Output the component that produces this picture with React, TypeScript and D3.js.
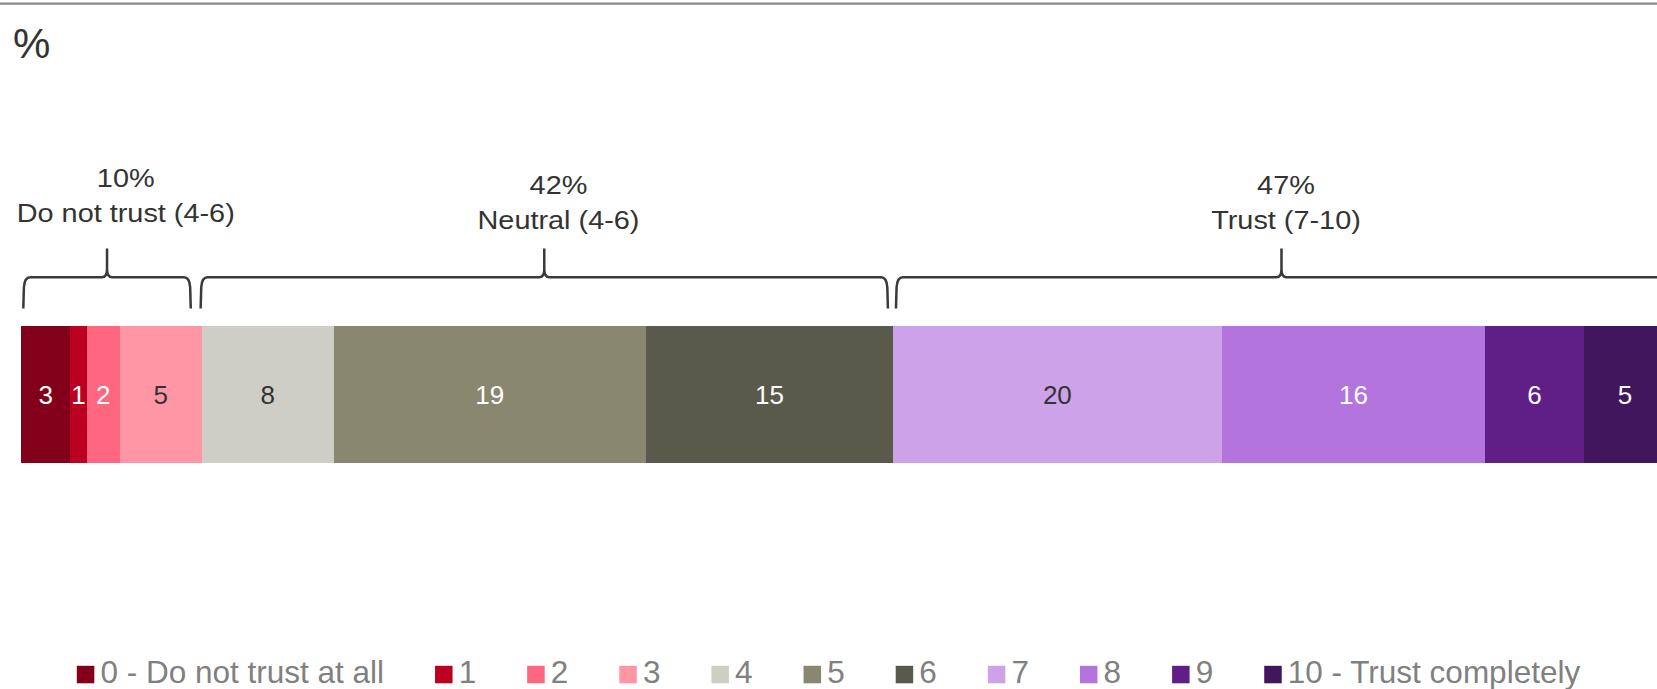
import React, { useEffect, useRef } from "react";
import * as d3 from "d3";

// ---- data ----
const categories = [
  "0 - Do not trust at all",
  "1",
  "2",
  "3",
  "4",
  "5",
  "6",
  "7",
  "8",
  "9",
  "10 - Trust completely",
];
const values = [3, 1, 2, 5, 8, 19, 15, 20, 16, 6, 5];
const colors = [
  "#82001a",
  "#bc0021",
  "#ff6680",
  "#ff96a6",
  "#cecec6",
  "#898770",
  "#5a5a4c",
  "#cea2e9",
  "#b474de",
  "#601e87",
  "#42165c",
];
const labelColors = [
  "#ffffff",
  "#ffffff",
  "#ffffff",
  "#333333",
  "#333333",
  "#ffffff",
  "#ffffff",
  "#333333",
  "#ffffff",
  "#ffffff",
  "#ffffff",
];
const groupPcts = ["10%", "42%", "47%"];
const groupNames = ["Do not trust (4-6)", "Neutral (4-6)", "Trust (7-10)"];
const groupStart = [0.14, 10.92, 53.19];
const groupEnd = [10.32, 52.7, 100.06];

// ---- layout ----
const W = 1657;
const H = 689;
const FONT = "'Liberation Sans', Arial, Helvetica, sans-serif";
const labelShiftX = [18.7, 14.2, 4.5];
const labelShiftY = [-7, 0, 0];

export default function App() {
  const ref = useRef<SVGSVGElement | null>(null);

  useEffect(() => {
    const svg = d3.select(ref.current);
    svg.selectAll("*").remove();

    const x = d3.scaleLinear().domain([0, 100]).range([21, 1666]);
    const barTop = 326;
    const barH = 137;

    // top rule
    svg
      .append("line")
      .attr("x1", 0)
      .attr("x2", W)
      .attr("y1", 3.6)
      .attr("y2", 3.6)
      .attr("stroke", "#8a8a8a")
      .attr("stroke-width", 2.2);

    // unit
    svg
      .append("text")
      .attr("x", 13)
      .attr("y", 57.5)
      .attr("font-family", FONT)
      .attr("font-size", 42)
      .attr("fill", "#333333")
      .text("%");

    // bar segments
    const cum = d3.cumsum(values);
    const starts = values.map((v, i) => cum[i] - v);
    const g = svg.append("g");
    g.selectAll("rect")
      .data(values)
      .join("rect")
      .attr("x", (_d, i) => Math.round(x(starts[i])))
      .attr("y", barTop)
      .attr(
        "width",
        (d, i) => Math.round(x(starts[i] + d)) - Math.round(x(starts[i]))
      )
      .attr("height", barH)
      .attr("shape-rendering", "crispEdges")
      .attr("fill", (_d, i) => colors[i]);

    g.selectAll("text")
      .data(values)
      .join("text")
      .attr("x", (d, i) => x(starts[i] + d / 2))
      .attr("y", barTop + barH / 2 + 9.5)
      .attr("text-anchor", "middle")
      .attr("font-family", FONT)
      .attr("font-size", 26)
      .attr("fill", (_d, i) => labelColors[i])
      .text((d) => String(d));

    // brackets
    const yh = 277.3;
    const yb = 308.5;
    const yp = 248.5;
    groupPcts.forEach((pct, i) => {
      const x0 = x(groupStart[i]);
      const x1 = x(groupEnd[i]);
      const xm = (x0 + x1) / 2;
      const p = d3.path();
      p.moveTo(x0, yb);
      p.lineTo(x0 + 0.6, yh + 10);
      p.quadraticCurveTo(x0 + 1.2, yh, x0 + 7, yh);
      p.lineTo(xm - 5, yh);
      p.quadraticCurveTo(xm, yh, xm, yh - 8);
      p.lineTo(xm, yp);
      p.lineTo(xm, yh - 8);
      p.quadraticCurveTo(xm, yh, xm + 5, yh);
      p.lineTo(x1 - 7, yh);
      p.quadraticCurveTo(x1 - 1.2, yh, x1 - 0.6, yh + 10);
      p.lineTo(x1, yb);
      svg
        .append("path")
        .attr("d", p.toString())
        .attr("fill", "none")
        .attr("stroke", "#3a3a3a")
        .attr("stroke-width", 2.5)
        .attr("stroke-linejoin", "miter");

      const cx = xm + labelShiftX[i];
      const lines = [pct, groupNames[i]];
      lines.forEach((t, j) => {
        svg
          .append("text")
          .attr(
            "transform",
            `translate(${cx},${193.5 + labelShiftY[i] + j * 35}) scale(1.11,1)`
          )
          .attr("text-anchor", "middle")
          .attr("font-family", FONT)
          .attr("font-size", 26)
          .attr("fill", "#333333")
          .text(t);
      });
    });

    // legend
    const legY = 683.3;
    const sq = 17.5;
    const gap = 51;
    const textOff = 23.6;
    const leg = svg.append("g");
    const items = categories.map((c, i) => {
      const it = leg.append("g");
      it.append("rect")
        .attr("x", 0)
        .attr("y", legY - sq)
        .attr("width", sq)
        .attr("height", sq)
        .attr("fill", colors[i]);
      const t = it
        .append("text")
        .attr("x", textOff)
        .attr("y", legY)
        .attr("font-family", FONT)
        .attr("font-size", 31.5)
        .attr("fill", "#808080")
        .text(c);
      const w = (t.node() as SVGTextElement).getComputedTextLength();
      return { it, w: textOff + w };
    });
    const total = d3.sum(items, (d) => d.w) + gap * (items.length - 1);
    let cur = W / 2 - total / 2;
    items.forEach((d) => {
      d.it.attr("transform", `translate(${cur},0)`);
      cur += d.w + gap;
    });
  }, []);

  return (
    <svg
      ref={ref}
      width={W}
      height={H}
      style={{ position: "absolute", left: 0, top: 0, background: "#ffffff" }}
    />
  );
}
